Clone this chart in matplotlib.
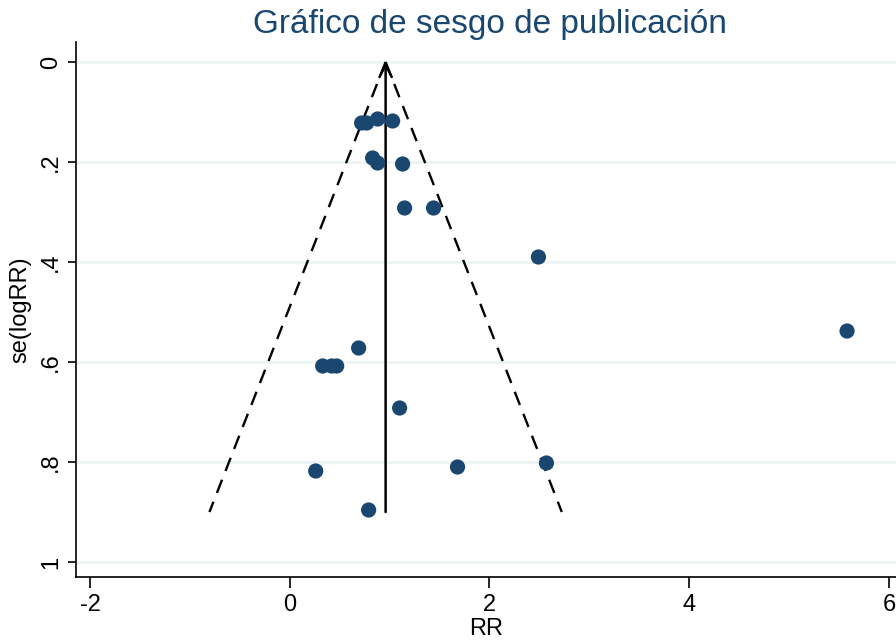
import numpy as np
import matplotlib
matplotlib.use("Agg")
import matplotlib.pyplot as plt

# study estimates (RR) and their standard errors of log RR
rr = [0.72, 0.77, 0.88, 1.03, 0.83, 0.88, 1.13, 1.15, 1.44, 2.49,
      5.58, 0.69, 0.33, 0.42, 0.47, 1.10, 0.26, 1.68, 2.57, 0.79]
se = [0.122, 0.122, 0.114, 0.118, 0.192, 0.202, 0.204, 0.292, 0.292, 0.390,
      0.538, 0.572, 0.608, 0.608, 0.608, 0.692, 0.818, 0.810, 0.802, 0.896]
pooled = 0.96
se_max = 0.9
xticks = [-2, 0, 2, 4, 6]
yticks = [0, 0.2, 0.4, 0.6, 0.8, 1]
ytick_labels = ["0", ".2", ".4", ".6", ".8", "1"]

navy = "#1a476f"
grid_col = "#eaf2f3"

plt.rcParams["font.family"] = ["Liberation Sans", "DejaVu Sans"]

fig = plt.figure(figsize=(8.96, 6.41), dpi=100)
ax = fig.add_axes([76 / 896, 1 - 577 / 641, 1 - 76 / 896, (577 - 42) / 641])

# pseudo 95% confidence limits
s = np.array([0, se_max])
ax.plot(pooled - 1.96 * s, s, color="black", ls=(0, (6, 4)), lw=1.7, zorder=2)
ax.plot(pooled + 1.96 * s, s, color="black", ls=(0, (6, 4)), lw=1.7, zorder=2)
ax.annotate("", xy=(pooled, 0), xytext=(pooled, se_max),
            arrowprops=dict(arrowstyle="->", color="black", lw=1.8,
                            mutation_scale=22, shrinkA=0, shrinkB=0), zorder=2)

ax.scatter(rr, se, s=120, color=navy, edgecolors="none", zorder=3)

ax.set_xlim(-2.14, 6.07)
ax.set_ylim(1.03, -0.04)
ax.set_xticks(xticks)
ax.set_xticklabels([str(t) for t in xticks])
ax.set_yticks(yticks)
ax.set_yticklabels(ytick_labels, rotation=90, va="center")
for y in yticks:
    ax.axhline(y, color=grid_col, lw=1.8, zorder=1)

for side in ["top", "right"]:
    ax.spines[side].set_visible(False)
ax.spines["left"].set_linewidth(1.2)
ax.spines["bottom"].set_linewidth(1.2)
ax.tick_params(axis="x", length=8, width=1.2, labelsize=17, pad=4)
ax.tick_params(axis="y", length=6, width=1.2, labelsize=17, pad=4)

ax.set_xlabel("RR", fontsize=17, labelpad=2)
ax.set_ylabel("se(logRR)", fontsize=17, labelpad=6)
fig.text(0.547, 0.962, "Gráfico de sesgo de publicación", color=navy,
         fontsize=24, ha="center", va="center")

fig.savefig("out.png", dpi=100)
